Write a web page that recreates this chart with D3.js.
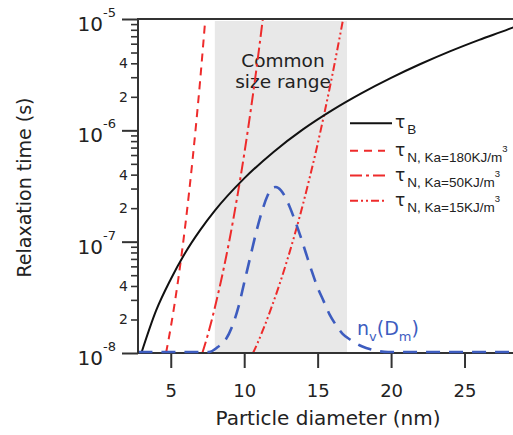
<!DOCTYPE html>
<html>
<head>
<meta charset="utf-8">
<script src="https://cdn.jsdelivr.net/npm/d3@7/dist/d3.min.js"></script>
<style>
  html, body { margin: 0; padding: 0; background: #fff; }
  svg { display: block; }
  text { font-family: "DejaVu Sans", sans-serif; }
</style>
</head>
<body>
<svg id="chart" width="513" height="435"></svg>
<script>
// ---------------- data ----------------
const xTicks = [5, 10, 15, 20, 25];
const yDecades = [1e-8, 1e-7, 1e-6, 1e-5];
const yDecadeExp = ["-8", "-7", "-6", "-5"];
const yMinorLabels = { 2: "2", 4: "4" };
const commonRange = [8, 17];

// Brownian relaxation time tau_B
const diamB = [3, 4, 5, 6, 7, 8, 10, 12, 14, 16, 18, 20, 22, 24, 26, 28, 28.5];
const tauB  = [1.0e-8, 2.4e-8, 4.6e-8, 8.0e-8, 1.27e-7, 1.9e-7, 3.7e-7, 6.4e-7, 1.02e-6,
               1.52e-6, 2.16e-6, 2.96e-6, 3.94e-6, 5.12e-6, 6.5e-6, 8.1e-6, 8.6e-6];

// Neel relaxation, Ka = 180 kJ/m3
const diamN180 = [4.68, 5.0, 5.5, 6.0, 6.5, 7.0, 7.2, 7.4];
const tauN180  = [1.0e-8, 1.7e-8, 4.5e-8, 1.44e-7, 5.7e-7, 2.8e-6, 5.7e-6, 1.2e-5];

// Neel relaxation, Ka = 50 kJ/m3
const diamN50 = [7.15, 7.5, 8.0, 8.5, 9.0, 9.5, 10.0, 10.5, 11.0, 11.4];
const tauN50  = [1.0e-8, 1.42e-8, 2.55e-8, 4.95e-8, 1.04e-7, 2.41e-7, 6.1e-7, 1.7e-6, 5.25e-6, 1.4e-5];

// Neel relaxation, Ka = 15 kJ/m3
const diamN15 = [10.6, 10.9, 11.4, 11.9, 12.4, 12.9, 13.4, 13.9, 14.4, 14.9, 15.4, 15.9, 16.4, 16.9];
const tauN15  = [1.0e-8, 1.22e-8, 1.77e-8, 2.66e-8, 4.12e-8, 6.64e-8, 1.11e-7, 1.93e-7, 3.5e-7,
                 6.6e-7, 1.31e-6, 2.7e-6, 5.85e-6, 1.3e-5];

// size distribution n_v(D_m), relative units
const diamNv = [2.8, 7.6, 8.2, 8.7, 9.2, 9.6, 10.0, 10.4, 10.8, 11.2, 11.6, 11.85, 12.15, 12.5,
                13.0, 13.4, 13.8, 14.2, 14.6, 15.0, 15.4, 15.8, 16.2, 16.7, 17.3, 18.0, 18.8, 19.8, 28.5];
const nv     = [0, 0, 0.03, 0.07, 0.16, 0.27, 0.42, 0.57, 0.72, 0.85, 0.95, 0.99, 1.0, 0.98,
                0.90, 0.81, 0.71, 0.60, 0.49, 0.39, 0.31, 0.23, 0.17, 0.11, 0.07, 0.035, 0.012, 0, 0];

const legendItems = [
  { sub: "B", sup: "", dash: null, color: "#111" },
  { sub: "N, Ka=180KJ/m", sup: "3", dash: "8,6", color: "#ee2b2b" },
  { sub: "N, Ka=50KJ/m", sup: "3", dash: "12,4,3,4", color: "#ee2b2b" },
  { sub: "N, Ka=15KJ/m", sup: "3", dash: "8,3,2,3,2,3", color: "#ee2b2b" }
];

// ---------------- layout ----------------
const L = 138, R = 513, T = 19, B = 353;
const svg = d3.select("#chart");
svg.append("rect").attr("width", 513).attr("height", 435).attr("fill", "#fff");

const x = d3.scaleLinear().domain([2.77, 28.3]).range([L, R]);
const y = d3.scaleLog().domain([1e-8, 1e-5]).range([B, T]);
const yNv = d3.scaleLinear().domain([0, 1]).range([B - 1, 187]);

svg.append("clipPath").attr("id", "clip")
  .append("rect").attr("x", L).attr("y", T).attr("width", R - L).attr("height", B - T);
svg.append("clipPath").attr("id", "clipNv")
  .append("rect").attr("x", L + 1).attr("y", T).attr("width", R - L).attr("height", B - T + 3);

// grey common size range
svg.append("rect")
  .attr("x", x(commonRange[0])).attr("y", T + 2)
  .attr("width", x(commonRange[1]) - x(commonRange[0]))
  .attr("height", B - T - 2)
  .attr("fill", "#e8e8e8");

svg.append("text").attr("x", 283).attr("y", 67).attr("text-anchor", "middle")
  .attr("font-size", 18.5).attr("fill", "#222").text("Common");
svg.append("text").attr("x", 283).attr("y", 88).attr("text-anchor", "middle")
  .attr("font-size", 18.5).attr("fill", "#222").text("size range");

const plot = svg.append("g").attr("clip-path", "url(#clip)");

const lineTau = d3.line().x(d => x(d[0])).y(d => y(d[1])).curve(d3.curveMonotoneX);
const lineNv = d3.line().x(d => x(d[0])).y(d => yNv(d[1])).curve(d3.curveMonotoneX);

const series = [
  [diamN180, tauN180, legendItems[1]],
  [diamN50, tauN50, legendItems[2]],
  [diamN15, tauN15, legendItems[3]]
];
series.forEach(([dd, tt, it]) => {
  plot.append("path").datum(d3.zip(dd, tt)).attr("d", lineTau)
    .attr("fill", "none").attr("stroke", it.color).attr("stroke-width", 2)
    .attr("stroke-dasharray", it.dash);
});

plot.append("path").datum(d3.zip(diamB, tauB)).attr("d", lineTau)
  .attr("fill", "none").attr("stroke", "#111").attr("stroke-width", 2);

// ---------------- axes ----------------
const axisColor = "#333";
// x axis
const xAxis = d3.axisBottom(x).tickValues(xTicks).tickSize(15).tickSizeOuter(0).tickPadding(16);
const gx = svg.append("g").attr("transform", `translate(0,${B})`).call(xAxis);
gx.select(".domain").remove();
gx.selectAll(".tick line").attr("stroke", axisColor).attr("stroke-width", 2);
gx.selectAll(".tick text").attr("font-size", 18).attr("fill", "#222")
  .attr("font-family", "DejaVu Sans, sans-serif");

// y axis: major + minor ticks
const minorVals = [];
yDecades.slice(0, 3).forEach(dec => { for (let m = 2; m <= 9; m++) minorVals.push(dec * m); });
const yAxisMinor = d3.axisLeft(y).tickValues(minorVals).tickFormat("").tickSize(7).tickSizeOuter(0);
const gym = svg.append("g").attr("transform", `translate(${L},0)`).call(yAxisMinor);
gym.select(".domain").remove();
gym.selectAll(".tick line").attr("stroke", axisColor).attr("stroke-width", 1.6);

const yAxisMajor = d3.axisLeft(y).tickValues(yDecades).tickFormat("").tickSize(16).tickSizeOuter(0);
const gyM = svg.append("g").attr("transform", `translate(${L},0)`).call(yAxisMajor);
gyM.select(".domain").remove();
gyM.selectAll(".tick line").attr("stroke", axisColor).attr("stroke-width", 2);

// minor labels
minorVals.forEach(v => {
  const m = Math.round(v / Math.pow(10, Math.floor(Math.log10(v) + 1e-9)));
  if (yMinorLabels[m]) {
    svg.append("text").attr("x", 128).attr("y", y(v) + 5).attr("text-anchor", "end")
      .attr("font-size", 14).attr("fill", "#222").text(yMinorLabels[m]);
  }
});
// decade labels
yDecades.forEach((v, i) => {
  const t = svg.append("text").attr("x", 116).attr("y", y(v) + 12)
    .attr("text-anchor", "end").attr("fill", "#222").attr("font-size", 20);
  t.append("tspan").text("10");
  t.append("tspan").attr("font-size", 13).attr("dy", -14).text(yDecadeExp[i]);
});

// axis lines and top frame
svg.append("line").attr("x1", L).attr("x2", L).attr("y1", T - 1).attr("y2", B + 1)
  .attr("stroke", axisColor).attr("stroke-width", 2);
svg.append("line").attr("x1", L - 1).attr("x2", R).attr("y1", B).attr("y2", B)
  .attr("stroke", axisColor).attr("stroke-width", 2);
svg.append("line").attr("x1", L - 1).attr("x2", R).attr("y1", T).attr("y2", T)
  .attr("stroke", axisColor).attr("stroke-width", 2);

// size distribution drawn over the axis line
svg.append("g").attr("clip-path", "url(#clipNv)")
  .append("path").datum(d3.zip(diamNv, nv)).attr("d", lineNv)
  .attr("fill", "none").attr("stroke", "#3d5cbf").attr("stroke-width", 2.6)
  .attr("stroke-dasharray", "14,9");

// axis titles
svg.append("text").attr("x", 328).attr("y", 425).attr("text-anchor", "middle")
  .attr("font-size", 20).attr("fill", "#222").text("Particle diameter (nm)");
svg.append("text").attr("transform", "translate(31,187.5) rotate(-90)")
  .attr("text-anchor", "middle").attr("font-size", 19).attr("fill", "#222")
  .text("Relaxation time (s)");

// ---------------- legend ----------------
const legY = [123.3, 150.7, 175.5, 200.7];
legendItems.forEach((it, i) => {
  const yy = legY[i];
  svg.append("line").attr("x1", 350).attr("x2", i === 0 ? 392 : 385)
    .attr("y1", yy).attr("y2", yy)
    .attr("stroke", it.color).attr("stroke-width", 2)
    .attr("stroke-dasharray", it.dash);
  const t = svg.append("text").attr("x", 395).attr("y", yy + 5).attr("fill", "#222");
  t.append("tspan").attr("font-size", 17).text("τ");
  t.append("tspan").attr("font-family", "Liberation Sans, Arial, sans-serif")
    .attr("font-size", 13.5).attr("dx", 2).attr("dy", 6).text(it.sub);
  if (it.sup) {
    t.append("tspan").attr("font-family", "Liberation Sans, Arial, sans-serif")
      .attr("font-size", 9.5).attr("dy", -10).text(it.sup);
  }
});

// n_v(D_m) label
const nl = svg.append("text").attr("x", 357).attr("y", 335).attr("fill", "#3d5cbf").attr("font-size", 19);
nl.append("tspan").text("n");
nl.append("tspan").attr("font-size", 13).attr("dy", 6).text("v");
nl.append("tspan").attr("dy", -6).text("(D");
nl.append("tspan").attr("font-size", 13).attr("dy", 6).text("m");
nl.append("tspan").attr("dy", -6).text(")");
</script>
</body>
</html>
